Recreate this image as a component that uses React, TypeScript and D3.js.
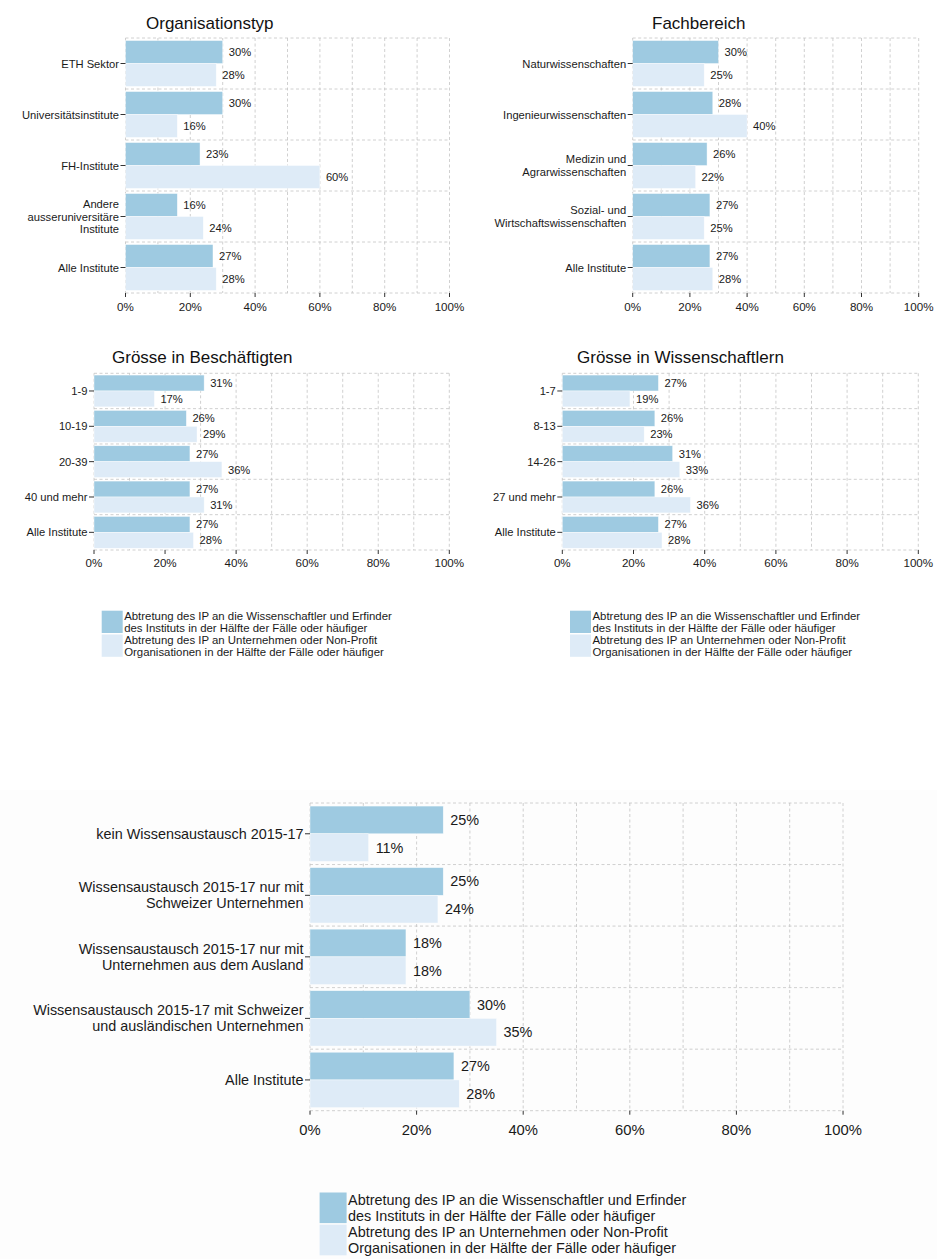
import React from "react";
import * as d3 from "d3";

const W = 937;
const H = 1259;
const DARK = "#9ECAE1";
const LIGHT = "#DEEBF7";
const GRID = "#c4c4c4";
const TXT = "#1a1a1a";
const FONT = "'Liberation Sans', Arial, sans-serif";

const ticks = [0, 20, 40, 60, 80, 100];
const gridTicks = [0, 10, 20, 30, 40, 50, 60, 70, 80, 90, 100];

const orgCats = ["ETH Sektor", "Universitätsinstitute", "FH-Institute", "Andere\nausseruniversitäre\nInstitute", "Alle Institute"];
const orgDark = [30, 30, 23, 16, 27];
const orgLight = [28, 16, 60, 24, 28];

const fachCats = ["Naturwissenschaften", "Ingenieurwissenschaften", "Medizin und\nAgrarwissenschaften", "Sozial- und\nWirtschaftswissenschaften", "Alle Institute"];
const fachDark = [30, 28, 26, 27, 27];
const fachLight = [25, 40, 22, 25, 28];

const beschCats = ["1-9", "10-19", "20-39", "40 und mehr", "Alle Institute"];
const beschDark = [31, 26, 27, 27, 27];
const beschLight = [17, 29, 36, 31, 28];

const wissCats = ["1-7", "8-13", "14-26", "27 und mehr", "Alle Institute"];
const wissDark = [27, 26, 31, 26, 27];
const wissLight = [19, 23, 33, 36, 28];

const austCats = [
  "kein Wissensaustausch 2015-17",
  "Wissensaustausch 2015-17 nur mit\nSchweizer Unternehmen",
  "Wissensaustausch 2015-17 nur mit\nUnternehmen aus dem Ausland",
  "Wissensaustausch 2015-17 mit Schweizer\nund ausländischen Unternehmen",
  "Alle Institute",
];
const austDark = [25, 25, 18, 30, 27];
const austLight = [11, 24, 18, 35, 28];

const legendLabels = [
  "Abtretung des IP an die Wissenschaftler und Erfinder\ndes Instituts in der Hälfte der Fälle oder häufiger",
  "Abtretung des IP an Unternehmen oder Non-Profit\nOrganisationen in der Hälfte der Fälle oder häufiger",
];

type PanelProps = {
  cats: string[];
  dark: number[];
  light: number[];
  x0: number;
  x1: number;
  yTop: number;
  yBot: number;
  fs: number;
  lh: number;
  labOff: number;
  tickY: number;
  title?: string;
  titleX?: number;
  titleY?: number;
};

function Panel(p: PanelProps) {
  const x = d3.scaleLinear().domain([0, 100]).range([p.x0, p.x1]);
  const y = d3.scaleBand<string>().domain(p.cats).range([p.yTop, p.yBot]).paddingInner(0).paddingOuter(0);
  const bw = y.bandwidth();
  const s = d3.scaleBand<string>().domain(["dark", "light"]).range([bw * 0.05, bw * 0.95]).padding(0);
  const edges = p.cats.map((c) => y(c) as number).concat([p.yBot]);
  return (
    <g>
      {p.title && (
        <text x={p.titleX} y={p.titleY} fontSize={17} fill="#111" fontFamily={FONT}>
          {p.title}
        </text>
      )}
      {gridTicks.map((t) => (
        <line key={"v" + t} x1={x(t)} x2={x(t)} y1={p.yTop} y2={p.yBot} stroke={GRID} strokeWidth={0.8} strokeDasharray="3,2.5" />
      ))}
      {edges.map((e, i) => (
        <line key={"h" + i} x1={p.x0} x2={p.x1} y1={e} y2={e} stroke={GRID} strokeWidth={0.8} strokeDasharray="3,2.5" />
      ))}
      {p.cats.map((c, i) => {
        const b = y(c) as number;
        const yd = b + (s("dark") as number);
        const yl = b + (s("light") as number);
        const h = s.bandwidth();
        return (
          <g key={c}>
            <rect x={x(0)} y={yd} width={x(p.dark[i]) - x(0)} height={h} fill={DARK} stroke="#ffffff" strokeWidth={0.6} strokeOpacity={0.7} />
            <rect x={x(0)} y={yl} width={x(p.light[i]) - x(0)} height={h} fill={LIGHT} stroke="#ffffff" strokeWidth={0.6} strokeOpacity={0.7} />
            <text x={x(p.dark[i]) + p.labOff} y={yd + h / 2} fontSize={p.fs} fill={TXT} dominantBaseline="central" fontFamily={FONT}>
              {p.dark[i] + "%"}
            </text>
            <text x={x(p.light[i]) + p.labOff} y={yl + h / 2} fontSize={p.fs} fill={TXT} dominantBaseline="central" fontFamily={FONT}>
              {p.light[i] + "%"}
            </text>
          </g>
        );
      })}
      {p.cats.map((c) => {
        const cy = (y(c) as number) + bw / 2;
        const lines = c.split("\n");
        return (
          <g key={"yl" + c}>
            <line x1={p.x0 - 5} x2={p.x0} y1={cy} y2={cy} stroke="#333" strokeWidth={1} />
            {lines.map((l, j) => (
              <text
                key={j}
                x={p.x0 - 6.5}
                y={cy + (j - (lines.length - 1) / 2) * p.lh}
                textAnchor="end"
                dominantBaseline="central"
                fontSize={p.fs}
                fill={TXT}
                fontFamily={FONT}
              >
                {l}
              </text>
            ))}
          </g>
        );
      })}
      {ticks.map((t) => (
        <g key={"t" + t}>
          <line x1={x(t)} x2={x(t)} y1={p.yBot} y2={p.yBot + 4} stroke="#333" strokeWidth={1} />
          <text x={x(t)} y={p.tickY} textAnchor="middle" dominantBaseline="central" fontSize={p.fs + 0.4} fill={TXT} fontFamily={FONT}>
            {t + "%"}
          </text>
        </g>
      ))}
    </g>
  );
}

type LegendProps = { x: number; y: number; kw: number; kh: number; gap: number; fs: number; lh: number };

function Legend(p: LegendProps) {
  const fills = [DARK, LIGHT];
  return (
    <g>
      {legendLabels.map((lab, i) => {
        const ky = p.y + i * (p.kh + p.gap);
        const lines = lab.split("\n");
        const cy = ky + p.kh / 2;
        return (
          <g key={i}>
            <rect x={p.x} y={ky} width={p.kw} height={p.kh} fill={fills[i]} />
            {lines.map((l, j) => (
              <text
                key={j}
                x={p.x + p.kw + 1.5}
                y={cy + (j - (lines.length - 1) / 2) * p.lh}
                dominantBaseline="central"
                fontSize={p.fs}
                fill={TXT}
                fontFamily={FONT}
              >
                {l}
              </text>
            ))}
          </g>
        );
      })}
    </g>
  );
}

export default function App() {
  return (
    <svg width={W} height={H} style={{ position: "absolute", left: 0, top: 0, display: "block" }} fontFamily={FONT}>
      <rect x={0} y={0} width={W} height={H} fill="#ffffff" />
      <rect x={0} y={790} width={W} height={H - 790} fill="#fdfdfd" />
      <Panel cats={orgCats} dark={orgDark} light={orgLight} x0={125.5} x1={449.5} yTop={38} yBot={293} fs={11.2} lh={12.5} labOff={6} tickY={306} title="Organisationstyp" titleX={146} titleY={29} />
      <Panel cats={fachCats} dark={fachDark} light={fachLight} x0={632.7} x1={918.7} yTop={38} yBot={293} fs={11.2} lh={12.5} labOff={6} tickY={306} title="Fachbereich" titleX={652} titleY={29} />
      <Panel cats={beschCats} dark={beschDark} light={beschLight} x0={94} x1={449.3} yTop={373.3} yBot={550} fs={11.2} lh={12.5} labOff={6} tickY={562} title="Grösse in Beschäftigten" titleX={112} titleY={362.5} />
      <Panel cats={wissCats} dark={wissDark} light={wissLight} x0={562.3} x1={918.3} yTop={373.3} yBot={550} fs={11.2} lh={12.5} labOff={6} tickY={562} title="Grösse in Wissenschaftlern" titleX={577} titleY={362.5} />
      <Legend x={101.7} y={610.7} kw={21} kh={22.3} gap={1.5} fs={11.4} lh={11.8} />
      <Legend x={570} y={610.7} kw={21} kh={22.3} gap={1.5} fs={11.4} lh={11.8} />
      <Panel cats={austCats} dark={austDark} light={austLight} x0={310} x1={843} yTop={803} yBot={1110.7} fs={14.4} lh={16} labOff={7} tickY={1130} />
      <Legend x={319.6} y={1192.5} kw={27} kh={30.6} gap={1.6} fs={14.4} lh={16.2} />
    </svg>
  );
}
